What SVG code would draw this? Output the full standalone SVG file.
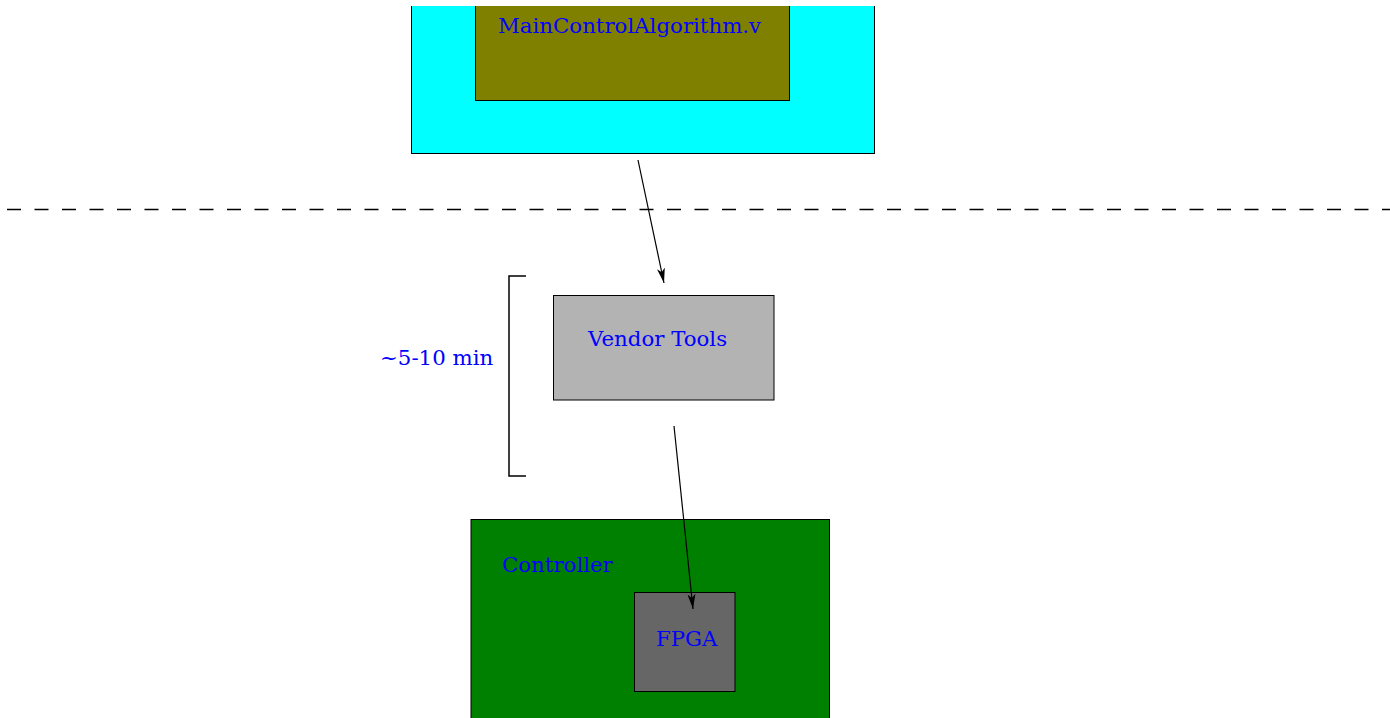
<svg xmlns="http://www.w3.org/2000/svg" width="1390" height="718" viewBox="0 0 1390 718">
<style>
text{font-family:"DejaVu Serif","Liberation Serif",serif;font-size:21.3px;fill:#0000ff}
.box{stroke:#000;stroke-width:1}
.conn{stroke:#000;stroke-width:1.2;fill:none}
</style>
<defs>
<marker id="ah" viewBox="0 0 15 8" refX="15" refY="4" markerWidth="15" markerHeight="8" markerUnits="userSpaceOnUse" orient="auto">
<path d="M0,0 L15,4 L0,8 L4,4 Z" fill="#000"/>
</marker>
<clipPath id="top"><rect x="0" y="6" width="1390" height="712"/></clipPath>
</defs>
<rect width="1390" height="718" fill="#fff"/>
<g id="host" clip-path="url(#top)">
<rect class="box" x="411.5" y="-10" width="463" height="163.5" fill="#00ffff"/>
</g>
<g id="source" clip-path="url(#top)">
<rect class="box" x="475.5" y="-10" width="314" height="110.5" fill="#808000"/>
<text x="498" y="33">MainControlAlgorithm.v</text>
</g>
<line x1="7" y1="209.5" x2="1390" y2="209.5" stroke="#000" stroke-width="1.3" stroke-dasharray="14,13.5"/>
<g id="vendor">
<rect class="box" x="553.5" y="295.5" width="220.5" height="104.5" fill="#b3b3b3"/>
<text x="588" y="346">Vendor Tools</text>
</g>
<g id="bracket">
<polyline points="526,276 509,276 509,476 526,476" fill="none" stroke="#000" stroke-width="1.5"/>
<text x="380" y="365">~5-10 min</text>
</g>
<g id="controller">
<rect class="box" x="471" y="519.5" width="358.5" height="210" fill="#008000"/>
<text x="502" y="572">Controller</text>
</g>
<g id="fpga">
<rect class="box" x="634.5" y="592.5" width="100.5" height="99" fill="#666666"/>
<text x="656" y="646">FPGA</text>
</g>
<g id="connectors">
<line class="conn" x1="638" y1="160" x2="664" y2="283" marker-end="url(#ah)"/>
<line class="conn" x1="674" y1="426" x2="693" y2="609" marker-end="url(#ah)"/>
</g>
</svg>
